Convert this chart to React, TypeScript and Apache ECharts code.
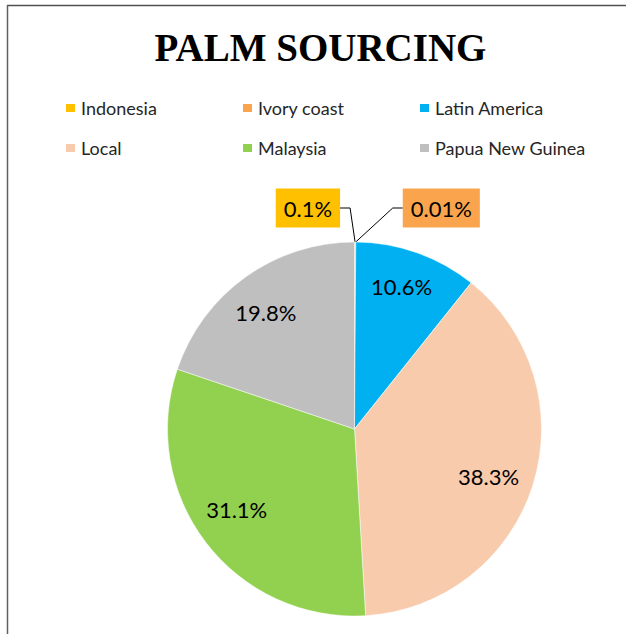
import React, { useEffect, useRef } from 'react';
import * as echarts from 'echarts';

const chartTitle = 'PALM SOURCING';
const categories = ['Indonesia', 'Ivory coast', 'Latin America', 'Local', 'Malaysia', 'Papua New Guinea'];
const shares = [0.1, 0.01, 10.6, 38.3, 31.1, 19.8];
const sliceColors = ['#FFC000', '#FAA54E', '#00B0F0', '#F8CBAD', '#92D050', '#BFBFBF'];
const outsideLabelIdx = [0, 1];

export default function App() {
  const ref = useRef<HTMLDivElement>(null);
  useEffect(() => {
    const chart = echarts.init(ref.current!, null, { renderer: 'svg' });
    const sansFont = 'Lato, Carlito, Calibri, sans-serif';
    const center = [354.5, 429];
    const R = 187;
    const legendLefts = [64, 241, 418];
    const legendTops = [98, 138];
    // small nudges of the inside labels (Excel best-fit placement)
    const insideNudge: Record<number, number[]> = {
      2: [-2, -4],
      3: [-6, 3],
      4: [-1, -9],
      5: [-3, 3],
    };

    const mainData = categories.map((name, i) => {
      const outside = outsideLabelIdx.includes(i);
      return {
        name,
        value: shares[i],
        itemStyle: { color: sliceColors[i] },
        label: outside
          ? { show: true, backgroundColor: sliceColors[i] }
          : { show: false },
        labelLine: { show: outside },
      };
    });

    const innerData = categories.map((name, i) => ({
      name,
      value: shares[i],
      label: { show: !outsideLabelIdx.includes(i) },
    }));

    const option: any = {
      animation: false,
      backgroundColor: '#ffffff',
      graphic: [
        {
          type: 'text',
          style: {
            text: chartTitle,
            x: 320.5,
            y: 47,
            align: 'center',
            verticalAlign: 'middle',
            fontFamily: '"Liberation Serif", "Times New Roman", serif',
            fontWeight: 'bold',
            fontSize: 39,
            fill: '#000000',
          },
        },
        {
          type: 'line',
          shape: { x1: 7, y1: 5.5, x2: 626, y2: 5.5 },
          style: { stroke: '#505050', lineWidth: 1.5 },
        },
        {
          type: 'line',
          shape: { x1: 7.5, y1: 5, x2: 7.5, y2: 634 },
          style: { stroke: '#606060', lineWidth: 1.5 },
        },
      ],
      legend: categories.map((name, i) => ({
        data: [name],
        left: legendLefts[i % 3],
        top: legendTops[Math.floor(i / 3)],
        padding: 0,
        itemWidth: 11,
        itemHeight: 10,
        itemGap: 0,
        icon: 'rect',
        selectedMode: false,
        textStyle: { fontFamily: sansFont, fontSize: 18, color: '#262626', lineHeight: 20 },
      })),
      series: [
        {
          type: 'pie',
          name: 'Palm sourcing',
          center,
          radius: [0, R],
          startAngle: 90,
          clockwise: true,
          avoidLabelOverlap: false,
          itemStyle: { borderColor: '#ffffff', borderWidth: 0.5 },
          label: {
            position: 'outside',
            formatter: '{c}%',
            fontFamily: sansFont,
            fontSize: 22,
            lineHeight: 24,
            color: '#000000',
            padding: [7.5, 8],
          },
          labelLine: {
            show: true,
            length: 20,
            length2: 10,
            lineStyle: { color: '#000000', width: 1 },
          },
          labelLayout: (params: any) => {
            if (!outsideLabelIdx.includes(params.dataIndex)) return {};
            const pts = params.labelLinePoints;
            const p0 = pts && pts[0] ? pts[0] : [params.rect.x, params.rect.y];
            const toLeft = params.dataIndex === 0;
            const ey = p0[1] - 34;
            const elbowX = toLeft ? p0[0] - 5 : p0[0] + 37;
            const endX = toLeft ? p0[0] - 15 : p0[0] + 47;
            return {
              x: endX,
              y: ey,
              align: toLeft ? 'right' : 'left',
              verticalAlign: 'middle',
              labelLinePoints: [[p0[0], p0[1]], [elbowX, ey], [endX, ey]],
            };
          },
          emphasis: { disabled: true },
          data: mainData,
        },
        {
          type: 'pie',
          name: 'labels',
          center,
          radius: [101, R],
          startAngle: 90,
          clockwise: true,
          silent: true,
          avoidLabelOverlap: false,
          itemStyle: { color: 'transparent', borderWidth: 0 },
          label: {
            position: 'inside',
            formatter: '{c}%',
            fontFamily: sansFont,
            fontSize: 22,
            color: '#000000',
          },
          labelLine: { show: false },
          labelLayout: (params: any) => {
            const n = insideNudge[params.dataIndex];
            return n ? { dx: n[0], dy: n[1] } : {};
          },
          emphasis: { disabled: true },
          data: innerData,
        },
      ],
    };
    chart.setOption(option);
    return () => chart.dispose();
  }, []);
  return (
    <div
      ref={ref}
      style={{ position: 'absolute', left: 0, top: 0, width: 626, height: 634 }}
    />
  );
}
